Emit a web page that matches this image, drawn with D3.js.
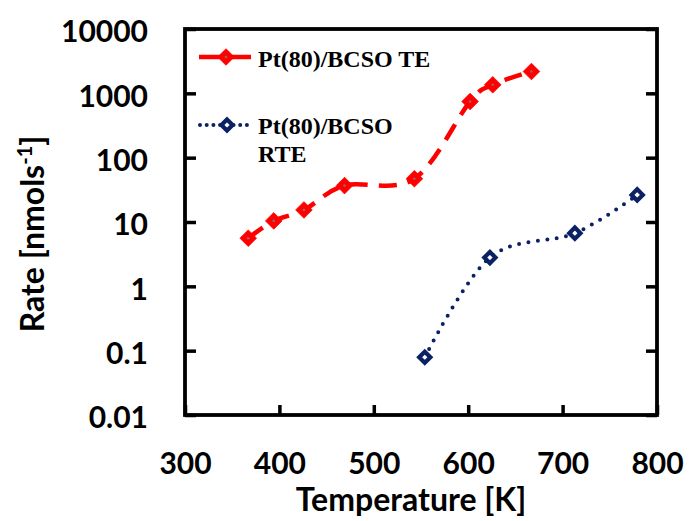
<!DOCTYPE html>
<html>
<head>
<meta charset="utf-8">
<script src="https://cdn.jsdelivr.net/npm/d3@7"></script>
<style>
  html, body { margin: 0; padding: 0; background: #fff; }
  svg { display: block; }
</style>
</head>
<body>
<svg id="chart" width="689" height="521"></svg>
<script>
// Reaction rate vs temperature for the two Pt(80)/BCSO runs
const teTemp = [367, 394, 426, 469, 543, 602, 626, 667];
const teRate = [5.6, 10.4, 15.4, 36.8, 47, 746, 1356, 2183];
const rteTemp = [554, 623, 713, 779];
const rteRate = [0.079, 2.8, 6.7, 26.4];

const xTicks = [300, 400, 500, 600, 700, 800];
const yTicks = [10000, 1000, 100, 10, 1, 0.1, 0.01];
const yTickLabels = ["10000", "1000", "100", "10", "1", "0.1", "0.01"];
const seriesNames = ["Pt(80)/BCSO TE", "Pt(80)/BCSO RTE"];

const svg = d3.select("#chart");
const plotL = 185, plotR = 657, plotT = 29, plotB = 415;

const x = d3.scaleLinear().domain([300, 800]).range([plotL, plotR]);
const y = d3.scaleLog().domain([0.01, 10000]).range([plotB, plotT]);

const sansFont = "Lato, 'Open Sans', sans-serif";
const serifFont = "'Liberation Serif', 'Times New Roman', serif";

// plot frame
svg.append("rect")
  .attr("x", plotL).attr("y", plotT)
  .attr("width", plotR - plotL).attr("height", plotB - plotT)
  .attr("fill", "none").attr("stroke", "#000").attr("stroke-width", 3.8);

// left axis, ticks pointing inward
const yAxis = svg.append("g")
  .attr("transform", `translate(${plotL},0)`)
  .call(d3.axisLeft(y).tickValues(yTicks)
    .tickFormat((d, i) => yTickLabels[i])
    .tickSize(-11).tickPadding(37));
yAxis.select(".domain").remove();
yAxis.selectAll(".tick line").attr("stroke", "#000").attr("stroke-width", 3.5);
yAxis.selectAll(".tick text")
  .attr("fill", "#000")
  .attr("dy", "0.43em")
  .style("font-family", sansFont).style("font-weight", "bold").style("font-size", "30px");

// right-side tick marks
const yAxisR = svg.append("g")
  .attr("transform", `translate(${plotR},0)`)
  .call(d3.axisRight(y).tickValues(yTicks).tickFormat("").tickSize(-11));
yAxisR.select(".domain").remove();
yAxisR.selectAll(".tick line").attr("stroke", "#000").attr("stroke-width", 3.5);

// bottom axis
const xAxis = svg.append("g")
  .attr("transform", `translate(0,${plotB})`)
  .call(d3.axisBottom(x).tickValues(xTicks).tickFormat(d3.format("d"))
    .tickSize(-10).tickPadding(0));
xAxis.select(".domain").remove();
xAxis.selectAll(".tick line").attr("stroke", "#000").attr("stroke-width", 3.5);
xAxis.selectAll(".tick text")
  .attr("fill", "#000")
  .attr("y", 59).attr("dy", null)
  .style("font-family", sansFont).style("font-weight", "bold").style("font-size", "30px");

// axis titles
svg.append("text")
  .attr("x", 411).attr("y", 511)
  .attr("text-anchor", "middle")
  .style("font-family", sansFont).style("font-weight", "bold").style("font-size", "32px")
  .text("Temperature [K]");

const yTitle = svg.append("text")
  .attr("transform", "translate(44,234) rotate(-90)")
  .attr("text-anchor", "middle")
  .style("font-family", sansFont).style("font-weight", "bold").style("font-size", "32px");
yTitle.append("tspan").text("Rate [nmols");
yTitle.append("tspan").attr("dy", -12).style("font-size", "20px").text("-1");
yTitle.append("tspan").attr("dy", 12).text("]");

// series
const line = d3.line()
  .x(d => x(d[0])).y(d => y(d[1]))
  .curve(d3.curveCardinal.tension(0));

const teData = teTemp.map((t, i) => [t, teRate[i]]);
const rteData = rteTemp.map((t, i) => [t, rteRate[i]]);

const red = "#ff0000";
const navy = "#0a2163";

function redMarker(sel) {
  sel.append("path")
    .attr("d", "M0,-8.3L8.3,0L0,8.3L-8.3,0Z")
    .attr("fill", red).attr("stroke", red).attr("stroke-width", 0.8)
    .attr("stroke-linejoin", "round");
  sel.append("circle").attr("r", 1.3).attr("fill", "#8a6a6a");
}
function blueMarker(sel) {
  sel.append("path")
    .attr("d", "M0,-5.6L5.6,0L0,5.6L-5.6,0Z")
    .attr("fill", "#fff").attr("stroke", navy).attr("stroke-width", 4.2);
}

svg.append("path")
  .datum(teData)
  .attr("d", line)
  .attr("fill", "none").attr("stroke", red)
  .attr("stroke-width", 4.5)
  .attr("stroke-dasharray", "18 11");

svg.append("path")
  .datum(rteData)
  .attr("d", line)
  .attr("fill", "none").attr("stroke", navy)
  .attr("stroke-width", 4)
  .attr("stroke-linecap", "round")
  .attr("stroke-dasharray", "0 9.5");

svg.selectAll("g.te").data(teData).enter().append("g")
  .attr("class", "te")
  .attr("transform", d => `translate(${x(d[0])},${y(d[1])})`)
  .call(redMarker);

svg.selectAll("g.rte").data(rteData).enter().append("g")
  .attr("class", "rte")
  .attr("transform", d => `translate(${x(d[0])},${y(d[1])})`)
  .call(blueMarker);

// legend
const leg = svg.append("g");
leg.append("line").attr("x1", 199).attr("x2", 251).attr("y1", 57).attr("y2", 57)
  .attr("stroke", red).attr("stroke-width", 4.5);
leg.append("g").attr("transform", "translate(226,57)").call(redMarker);
leg.append("text").attr("x", 258).attr("y", 66.5)
  .style("font-family", serifFont).style("font-weight", "bold").style("font-size", "24px")
  .text(seriesNames[0]);

leg.append("line").attr("x1", 200).attr("x2", 253).attr("y1", 125).attr("y2", 125)
  .attr("stroke", navy).attr("stroke-width", 4)
  .attr("stroke-linecap", "round").attr("stroke-dasharray", "0 6.7");
leg.append("g").attr("transform", "translate(227,125)").call(blueMarker);
const rteWords = seriesNames[1].split(" ");
const legText = leg.append("text")
  .style("font-family", serifFont).style("font-weight", "bold").style("font-size", "24px");
legText.append("tspan").attr("x", 258).attr("y", 133.5).text(rteWords[0]);
legText.append("tspan").attr("x", 258).attr("y", 161.5).text(rteWords[1]);
</script>
</body>
</html>
